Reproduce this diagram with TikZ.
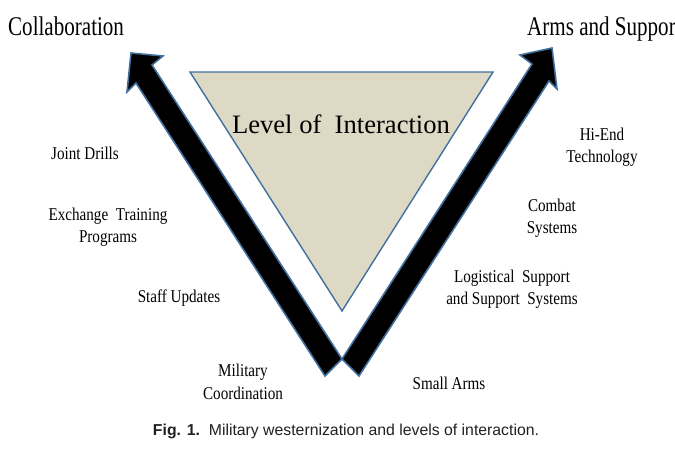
\documentclass[tikz,border=0pt]{standalone}
\usepackage{fontspec}
\setmainfont{Liberation Serif}
\newfontfamily\lblfont[FakeStretch=0.84]{Liberation Serif}
\newfontfamily\ttlfont[FakeStretch=0.78]{Liberation Serif}
\newfontfamily\capfont{Liberation Sans}
\definecolor{edgeblue}{HTML}{41709F}
\definecolor{levelfill}{HTML}{DDD9C4}
\definecolor{captext}{HTML}{231F20}
\tikzset{
  shaft/.style={fill=black,draw=edgeblue,line width=1.6pt,line join=miter},
  level/.style={fill=levelfill,draw=edgeblue,line width=1.4pt},
  lbl/.style={align=center,inner sep=0pt,font=\lblfont\fontsize{18}{22.5}\selectfont},
  ttl/.style={anchor=base west,inner sep=0pt,font=\ttlfont\fontsize{27}{30}\selectfont},
}
\begin{document}
\begin{tikzpicture}[x=1pt,y=-1pt]
\useasboundingbox (0,0) rectangle (675,451);
% triangle in the middle
\draw[level] (190,72) -- (493,72) -- (342,311) -- cycle;
\node[anchor=base,inner sep=0pt,font=\fontsize{26.6}{32}\selectfont] (lvl) at (341,133) {Level of\ \ Interaction};
% the two arrows
\draw[shaft] (325,376) -- (136,83) -- (127,92) -- (131,53) -- (163,56) -- (152,65) -- (342,359) -- cycle;
\draw[shaft] (359,376) -- (549,81) -- (557,89) -- (552,48) -- (520,55) -- (532,64) -- (342,359) -- cycle;
% titles
\node[ttl] (collab) at (8,35) {Collaboration};
\node[ttl] (arms) at (527,35) {Arms and Suppor};
% left side
\node[lbl] (drills) at (85,153) {Joint Drills};
\node[lbl] (exch) at (108,227) {Exchange\ \ Training\\Programs};
\node[lbl] (staff) at (179,298) {Staff Updates};
\node[lbl] (coord) at (243,382) {Military\\Coordination};
% right side
\node[lbl] (hiend) at (602,147) {Hi-End\\Technology};
\node[lbl] (combat) at (552,218) {Combat\\Systems};
\node[lbl] (logist) at (512,289) {Logistical\ \ Support\\and Support\ \ Systems};
\node[lbl] (small) at (449,383) {Small Arms};
% caption
\node[anchor=base,inner sep=0pt,text=captext,font=\capfont\fontsize{15.8}{18}\selectfont] (cap) at (346,435) {\textbf{Fig. 1.}\ \ Military westernization and levels of interaction.};
\end{tikzpicture}
\end{document}
